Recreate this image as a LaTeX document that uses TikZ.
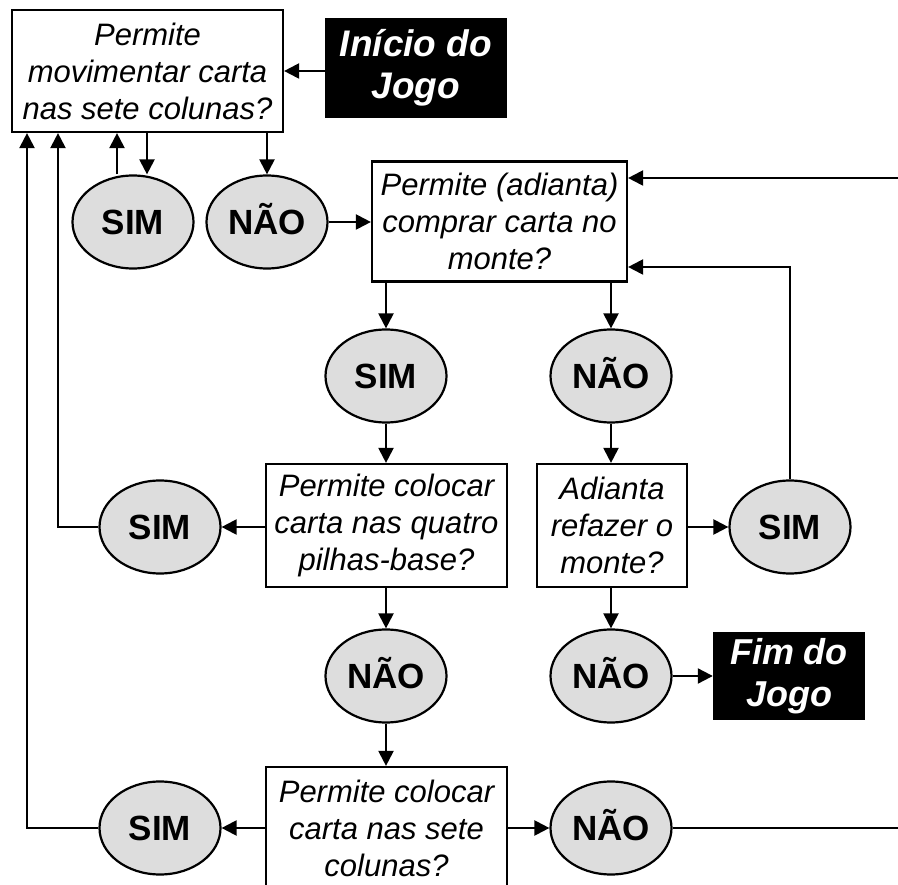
\documentclass[tikz,border=0pt]{standalone}
\usepackage{fontspec}
\setmainfont{Liberation Sans}
\usetikzlibrary{arrows.meta,shapes.geometric}
\tikzset{
  qbox/.style={draw, line width=2.2pt, fill=white, inner sep=0pt, align=center,
    font=\itshape\fontsize{31}{37}\selectfont},
  ans/.style={ellipse, draw, line width=2.2pt, fill=gray!27, inner sep=0pt,
    minimum width=121pt, minimum height=93pt, text height=25pt, text depth=0pt,
    font=\bfseries\fontsize{35}{42}\selectfont},
  term/.style={fill=black, text=white, inner sep=0pt, align=center,
    font=\bfseries\itshape\fontsize{37}{42}\selectfont},
  arr/.style={line width=2.2pt, -{Triangle[length=15pt,width=15pt]}}
}
\begin{document}
\begin{tikzpicture}[x=1pt,y=-1pt]
\useasboundingbox (0,0) rectangle (898,885);
\clip (0,0) rectangle (898,885);
% nodes
\node[qbox, minimum width=271pt, minimum height=122pt] (box1) at (147.5,71) {Permite\\movimentar carta\\nas sete colunas?};
\node[term, minimum width=182pt, minimum height=100pt] (start) at (416,68) {Início do\\Jogo};
\node[ans] (sim1) at (133,222) {SIM};
\node[ans] (nao1) at (267,222) {NÃO};
\node[qbox, minimum width=255pt, minimum height=120pt] (box2) at (499.5,221.5) {Permite (adianta)\\comprar carta no\\monte?};
\node[ans] (sim2) at (386,376) {SIM};
\node[ans] (nao2) at (611,376) {NÃO};
\node[qbox, minimum width=241pt, minimum height=123pt] (box3) at (386.5,525.5) {Permite colocar\\carta nas quatro\\pilhas-base?};
\node[qbox, minimum width=150pt, minimum height=123pt] (box4) at (612,525.5) {Adianta\\refazer o\\monte?};
\node[ans] (sim3) at (160,527) {SIM};
\node[ans] (sim4) at (790,527) {SIM};
\node[ans] (nao3) at (386,676) {NÃO};
\node[ans] (nao4) at (611,676) {NÃO};
\node[term, minimum width=152pt, minimum height=88pt, font=\bfseries\itshape\fontsize{36}{42}\selectfont] (fim) at (789,676) {Fim do\\Jogo};
\node[qbox, minimum width=241pt, minimum height=123pt] (box5) at (386.5,828.5) {Permite colocar\\carta nas sete\\colunas?};
\node[ans] (sim5) at (160,828) {SIM};
\node[ans] (nao5) at (611,828) {NÃO};
% helper coordinates
\coordinate (xa) at (147,0);
\coordinate (xb) at (117,0);
\coordinate (xc) at (58,0);
\coordinate (xe) at (27,0);
\coordinate (yd) at (0,267);
\coordinate (yf) at (0,178);
\coordinate (xr) at (912,0);
% connectors
\draw[arr] (start.west |- box1.east) -- (box1.east);
\draw[arr] (box1.south -| xa) -- (sim1.north -| xa);
\draw[arr] (sim1.north -| xb) -- (box1.south -| xb);
\draw[arr] (box1.south -| nao1.north) -- (nao1.north);
\draw[arr] (nao1.east) -- (box2.west |- nao1.east);
\draw[arr] (box2.south -| sim2.north) -- (sim2.north);
\draw[arr] (box2.south -| nao2.north) -- (nao2.north);
\draw[arr] (sim2.south) -- (box3.north -| sim2.south);
\draw[arr] (nao2.south) -- (box4.north -| nao2.south);
\draw[arr] (box3.west |- sim3.east) -- (sim3.east);
\draw[arr] (sim3.west) -| (box1.south -| xc);
\draw[arr] (box4.east |- sim4.west) -- (sim4.west);
\draw[arr] (sim4.north) |- (box2.east |- yd);
\draw[arr] (box3.south -| nao3.north) -- (nao3.north);
\draw[arr] (box4.south -| nao4.north) -- (nao4.north);
\draw[arr] (nao4.east) -- (fim.west |- nao4.east);
\draw[arr] (nao3.south) -- (box5.north -| nao3.south);
\draw[arr] (box5.west |- sim5.east) -- (sim5.east);
\draw[arr] (sim5.west) -| (box1.south -| xe);
\draw[arr] (box5.east |- nao5.west) -- (nao5.west);
\draw[arr] (nao5.east) -| (xr) |- (box2.east |- yf);
\end{tikzpicture}
\end{document}
